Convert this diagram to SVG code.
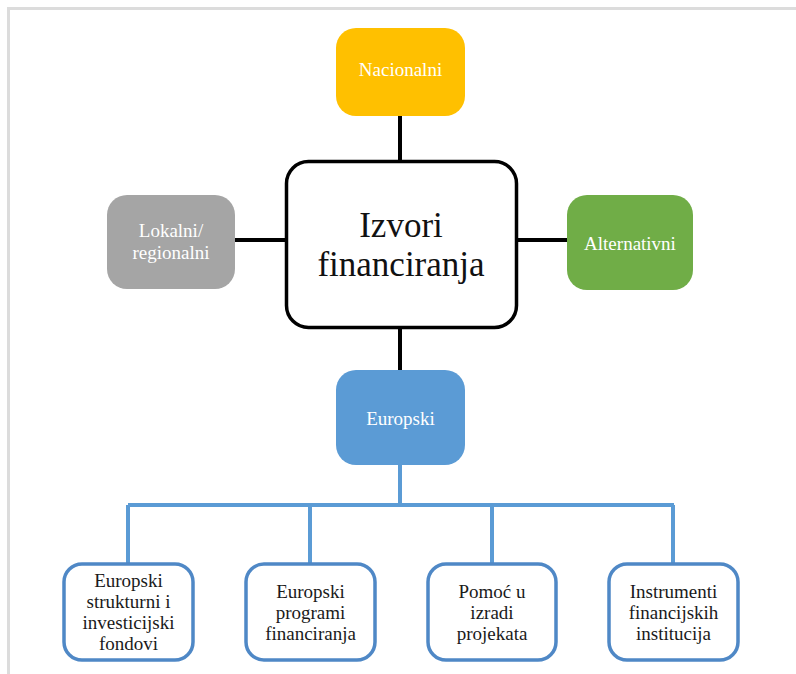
<svg xmlns="http://www.w3.org/2000/svg" width="796" height="674" viewBox="0 0 796 674">
<style>
text{font-family:"Liberation Serif","DejaVu Serif",serif;text-anchor:middle}
.w{fill:#ffffff;font-size:19px}
.b{fill:#1a1a1a;font-size:19px}
.big{fill:#111111;font-size:35px}
.blk{stroke:#000000;stroke-width:4;fill:none}
.blu{stroke:#5b9bd5;stroke-width:4;fill:none}
.leaf{fill:#ffffff;stroke:#4f88c6;stroke-width:3.5}
</style>
<rect width="796" height="674" fill="#ffffff"/>
<path d="M8.5 674V8.5H796" fill="none" stroke="#dcdcdc" stroke-width="3"/>
<g id="connectors">
<path class="blk" d="M400 115V160M235 240H285M517 240H567M400 328V370"/>
<path class="blu" d="M400 465V505M128 505H674M128 505V563M310 505V563M492 505V563M673 505V563"/>
</g>
<g id="center">
<rect x="286.5" y="161.5" width="230" height="166" rx="22" fill="#ffffff" stroke="#000000" stroke-width="3.5"/>
<text class="big" x="401" y="237">Izvori</text>
<text class="big" x="401" y="276">financiranja</text>
</g>
<g id="nacionalni">
<rect x="336" y="28" width="129" height="88" rx="20" fill="#ffc000"/>
<text class="w" x="400.5" y="76">Nacionalni</text>
</g>
<g id="lokalni">
<rect x="107" y="195" width="128" height="94" rx="20" fill="#a5a5a5"/>
<text class="w" x="171" y="237">Lokalni/</text>
<text class="w" x="171" y="259">regionalni</text>
</g>
<g id="alternativni">
<rect x="567" y="195" width="126" height="95" rx="20" fill="#70ad47"/>
<text class="w" x="630" y="250">Alternativni</text>
</g>
<g id="europski">
<rect x="336" y="370" width="129" height="95" rx="20" fill="#5b9bd5"/>
<text class="w" x="400.5" y="425">Europski</text>
</g>
<g id="leaf1">
<rect class="leaf" x="64" y="564" width="129" height="96" rx="18"/>
<text class="b" x="128.5" y="587">Europski</text>
<text class="b" x="128.5" y="608">strukturni i</text>
<text class="b" x="128.5" y="629">investicijski</text>
<text class="b" x="128.5" y="650">fondovi</text>
</g>
<g id="leaf2">
<rect class="leaf" x="246" y="564" width="129" height="96" rx="18"/>
<text class="b" x="310.5" y="598">Europski</text>
<text class="b" x="310.5" y="619">programi</text>
<text class="b" x="310.5" y="640">financiranja</text>
</g>
<g id="leaf3">
<rect class="leaf" x="428" y="564" width="128" height="96" rx="18"/>
<text class="b" x="492" y="598">Pomoć u</text>
<text class="b" x="492" y="619">izradi</text>
<text class="b" x="492" y="640">projekata</text>
</g>
<g id="leaf4">
<rect class="leaf" x="609" y="564" width="129" height="96" rx="18"/>
<text class="b" x="673.5" y="598">Instrumenti</text>
<text class="b" x="673.5" y="619">financijskih</text>
<text class="b" x="673.5" y="640">institucija</text>
</g>
</svg>
